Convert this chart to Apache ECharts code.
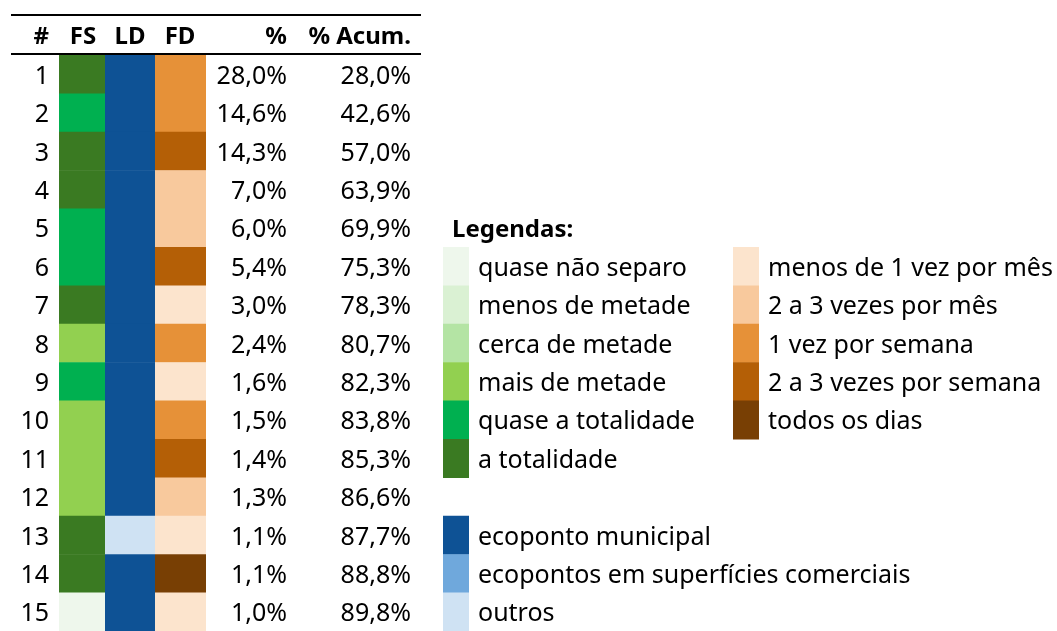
<!DOCTYPE html>
<html>
<head>
<meta charset="utf-8">
<script src="https://cdn.jsdelivr.net/npm/echarts@6/dist/echarts.min.js"></script>
<style>
    html, body { margin: 0; padding: 0; background: #fff; }
    #main { width: 1057px; height: 631px; }
</style>
</head>
<body>
<div id="main"></div>
<script>
// data
var rows = ['1', '2', '3', '4', '5', '6', '7', '8', '9', '10', '11', '12', '13', '14', '15'];
var headers = ['#', 'FS', 'LD', 'FD', '%', '% Acum.'];
var fsLevels = [5, 4, 5, 5, 4, 4, 5, 3, 4, 3, 3, 3, 5, 5, 0];
var ldLevels = [0, 0, 0, 0, 0, 0, 0, 0, 0, 0, 0, 0, 2, 0, 0];
var fdLevels = [2, 2, 3, 1, 1, 3, 0, 2, 0, 2, 3, 1, 0, 4, 0];
var pct = [28.0, 14.6, 14.3, 7.0, 6.0, 5.4, 3.0, 2.4, 1.6, 1.5, 1.4, 1.3, 1.1, 1.1, 1.0];
var pctCum = [28.0, 42.6, 57.0, 63.9, 69.9, 75.3, 78.3, 80.7, 82.3, 83.8, 85.3, 86.6, 87.7, 88.8, 89.8];

var legendTitle = 'Legendas:';
var fsNames = ['quase não separo', 'menos de metade', 'cerca de metade', 'mais de metade', 'quase a totalidade', 'a totalidade'];
var fdNames = ['menos de 1 vez por mês', '2 a 3 vezes por mês', '1 vez por semana', '2 a 3 vezes por semana', 'todos os dias'];
var ldNames = ['ecoponto municipal', 'ecopontos em superfícies comerciais', 'outros'];

// styles
var fsColors = ['#EEF7EC', '#DAF1D3', '#B4E4A4', '#92D050', '#00B050', '#3A7A22'];
var fdColors = ['#FCE4CD', '#F8C99D', '#E69138', '#B45F06', '#783F04'];
var ldColors = ['#0E5295', '#6FA8DC', '#CFE2F3'];

var FONT = '"Noto Sans", "Open Sans", sans-serif';
var FS = 25;      // body text
var FS_B = 24;    // bold header text
var DY = 2.5;     // nudge text down a bit, like the original

var myChart = echarts.init(document.getElementById('main'));

function fmt(v) {
    return v.toFixed(1).replace('.', ',') + '%';
}

function cellSeries(levels, colors, x0, x1) {
    return {
        type: 'custom',
        silent: true,
        data: levels.map(function (v, i) { return [x0, i, v]; }),
        encode: { x: 0, y: 1 },
        renderItem: function (params, api) {
            var idx = api.value(1);
            var h = api.size([0, 1])[1];
            var a = api.coord([x0, idx]);
            var b = api.coord([x1, idx]);
            return {
                type: 'rect',
                shape: { x: a[0], y: a[1] - h / 2, width: b[0] - a[0], height: h + 0.6 },
                style: { fill: colors[api.value(2)] }
            };
        }
    };
}

function textSeries(texts, x, align, bold, startRow) {
    startRow = startRow || 0;
    return {
        type: 'custom',
        silent: true,
        data: texts.map(function (t, i) { return [x, startRow + i]; }),
        encode: { x: 0, y: 1 },
        renderItem: function (params, api) {
            var p = api.coord([x, api.value(1)]);
            return {
                type: 'text',
                x: p[0],
                y: p[1] + DY,
                style: {
                    text: texts[params.dataIndex],
                    font: bold ? 'bold ' + FS_B + 'px ' + FONT : FS + 'px ' + FONT,
                    fill: '#000',
                    align: align,
                    verticalAlign: 'middle'
                }
            };
        }
    };
}

// legend block, placed on the table rows starting at startRow
function legendSeries(names, colors, startRow, x0, x1, tx) {
    return {
        type: 'custom',
        silent: true,
        data: names.map(function (n, i) { return [x0, startRow + i]; }),
        encode: { x: 0, y: 1 },
        renderItem: function (params, api) {
            var idx = api.value(1);
            var h = api.size([0, 1])[1];
            var a = api.coord([x0, idx]);
            var b = api.coord([x1, idx]);
            var t = api.coord([tx, idx]);
            return {
                type: 'group',
                children: [{
                    type: 'rect',
                    shape: { x: a[0], y: a[1] - h / 2, width: b[0] - a[0], height: h + 0.6 },
                    style: { fill: colors[params.dataIndex] }
                }, {
                    type: 'text',
                    x: t[0],
                    y: t[1] + DY,
                    style: {
                        text: names[params.dataIndex],
                        font: FS + 'px ' + FONT,
                        fill: '#000',
                        align: 'left',
                        verticalAlign: 'middle'
                    }
                }]
            };
        }
    };
}

function headerText(i, x, align) {
    return {
        type: 'text', x: x, y: 37,
        style: { text: headers[i], font: 'bold ' + FS_B + 'px ' + FONT, fill: '#000', align: align, verticalAlign: 'middle' }
    };
}

var option = {
    animation: false,
    backgroundColor: '#fff',
    grid: { left: 0, right: 0, top: 55, height: 580.5 },
    xAxis: { type: 'value', min: 0, max: 1057, show: false },
    yAxis: { type: 'category', data: rows, inverse: true, show: false },
    graphic: [
        { type: 'line', shape: { x1: 11, y1: 15, x2: 421, y2: 15 }, style: { stroke: '#000', lineWidth: 2 } },
        { type: 'line', shape: { x1: 11, y1: 54, x2: 421, y2: 54 }, style: { stroke: '#000', lineWidth: 2 } },
        headerText(0, 49, 'right'),
        headerText(1, 83, 'center'),
        headerText(2, 130, 'center'),
        headerText(3, 180, 'center'),
        headerText(4, 287, 'right'),
        headerText(5, 411, 'right')
    ],
    series: [
        cellSeries(fsLevels, fsColors, 59, 105),
        cellSeries(ldLevels, ldColors, 105, 155),
        cellSeries(fdLevels, fdColors, 155, 206),
        textSeries(rows, 49, 'right', false),
        textSeries(pct.map(fmt), 287, 'right', false),
        textSeries(pctCum.map(fmt), 411, 'right', false),
        textSeries([legendTitle], 452, 'left', true, 4),
        legendSeries(fsNames, fsColors, 5, 443, 469, 478),
        legendSeries(fdNames, fdColors, 5, 733, 759, 768),
        legendSeries(ldNames, ldColors, 12, 443, 469, 478)
    ]
};

myChart.setOption(option);
</script>
</body>
</html>
